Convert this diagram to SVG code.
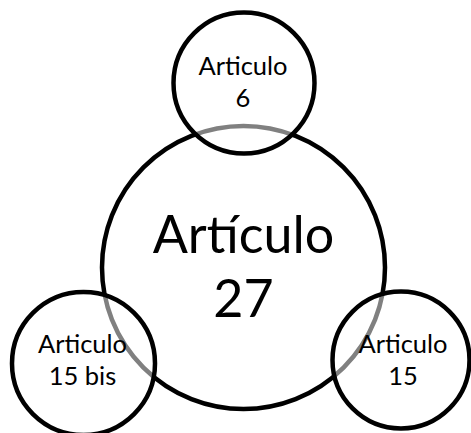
<svg xmlns="http://www.w3.org/2000/svg" width="471" height="433" viewBox="0 0 471 433">
<style>
.c{stroke:#000;stroke-width:4.5}
.big{fill:#fff}
.small{fill:#fff;fill-opacity:0.5}
text{font-family:Lato,"Open Sans","Noto Sans",sans-serif;fill:#000;text-anchor:middle}
.s{font-size:25.5px}
.b{font-size:52px}
</style>
<rect width="471" height="433" fill="#fff"/>
<g id="connectors"></g>
<g id="node-art27">
<circle class="c big" cx="243.5" cy="267.5" r="141.5"/>
</g>
<g id="node-art6">
<circle class="c small" cx="244" cy="83" r="70.5"/>
<text class="s" x="243" y="75">Articulo</text>
<text class="s" x="243" y="107">6</text>
</g>
<g id="node-art15bis">
<circle class="c small" cx="83.5" cy="363.5" r="71.5"/>
<text class="s" x="82.5" y="352.7">Articulo</text>
<text class="s" x="82.5" y="385">15 bis</text>
</g>
<g id="node-art15">
<circle class="c small" cx="401" cy="360" r="68.5"/>
<text class="s" x="403" y="352.7">Articulo</text>
<text class="s" x="403" y="385">15</text>
</g>
<g id="labels-art27">
<text class="b" x="243.5" y="253.3">Artículo</text>
<text class="b" x="243.5" y="317">27</text>
</g>
</svg>
